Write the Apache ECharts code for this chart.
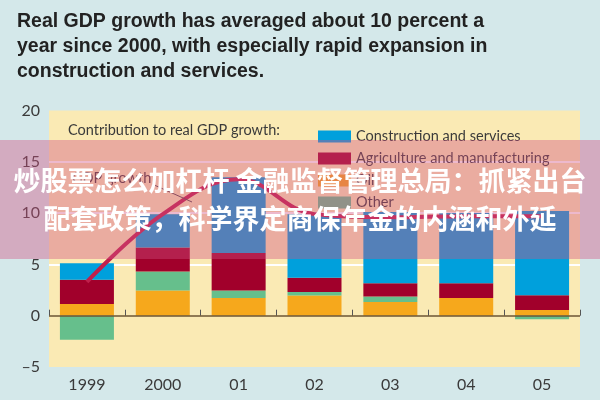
<!DOCTYPE html>
<html><head><meta charset="utf-8">
<script src="https://cdn.jsdelivr.net/npm/echarts@6/dist/echarts.min.js"></script>
<style>html,body{margin:0;padding:0;background:#d4e8ea;}#c{width:600px;height:400px;}</style>
</head><body><div id="c"></div>
<script>
const categories = ['1999','2000','01','02','03','04','05'];
const oil = [1.15, 2.45, 1.73, 1.96, 1.34, 1.73, 0.56];
const other = [-2.35, 1.85, 0.72, 0.34, 0.52, 0, -0.35];
const agriManuf = [2.35, 2.35, 3.65, 1.4, 1.31, 1.44, 1.44];
const constrServ = [1.6, 3.25, 7.4, 6.2, 6.93, 6.83, 8.2];
const gdpGrowth = [3.3, 9.9, 13.3, 9.9, 9.6, 9.7, 9.7];
const yTicks = [-5, 0, 5, 10, 15, 20];
const titleLines = ['Real GDP growth has averaged about 10 percent a',
  'year since 2000, with especially rapid expansion in',
  'construction and services.'];
const bannerLines = ['炒股票怎么加杠杆 金融监督管理总局：抓紧出台', '配套政策，科学界定商保年金的内涵和外延'];

const C = {blue:'#00a0dc', red:'#a1002b', orange:'#f6a81c', green:'#66bf8c', line:'#c01f4b'};
const FONT = 'Lato, "Noto Sans", sans-serif';
const chart = echarts.init(document.getElementById('c'), null, {renderer:'canvas'});

const barBase = {type:'bar', stack:'g', barWidth:54, emphasis:{disabled:true}};
const option = {
  backgroundColor:'#d4e8ea',
  animation:false,
  textStyle:{fontFamily:FONT},
  grid:{left:49, right:20, top:110.5, bottom:33, show:true, backgroundColor:'#faeab4', borderWidth:0},
  legend:{
    data:['Construction and services','Agriculture and manufacturing','Oil','Other'],
    orient:'vertical', left:313, top:124, itemWidth:33, itemHeight:12, itemGap:7,
    icon:'rect', selectedMode:false,
    textStyle:{fontFamily:FONT, fontSize:14.5, color:'#3a3a3a', padding:[0,0,0,0]}
  },
  xAxis:{type:'category', data:categories,
    axisLine:{show:false},
    axisTick:{show:true, inside:true, length:6, lineStyle:{color:'#555', width:1}},
    axisLabel:{fontFamily:FONT, fontSize:16, color:'#3a3a3a', margin:10},
    splitLine:{show:false}},
  yAxis:{type:'value', min:-5, max:20, interval:5,
    axisLine:{show:false}, axisTick:{show:false},
    axisLabel:{fontFamily:FONT, fontSize:16, color:'#3a3a3a', margin:9,
      formatter:v=> (yTicks.includes(v) ? (v<0 ? '\u2013'+Math.abs(v) : String(v)) : '')},
    splitLine:{show:true, lineStyle:{color:['transparent','transparent','#ffffff','#ffffff','#ffffff','transparent'], width:2}}},
  series:[
    Object.assign({}, barBase, {name:'Oil', data:oil, itemStyle:{color:C.orange},
      markLine:{silent:true, symbol:'none', label:{show:false},
        lineStyle:{color:'#6b5535', width:1.5, type:'solid'}, data:[{yAxis:0}]}}),
    Object.assign({}, barBase, {name:'Other', data:other, itemStyle:{color:C.green}}),
    Object.assign({}, barBase, {name:'Agriculture and manufacturing', data:agriManuf, itemStyle:{color:C.red}}),
    Object.assign({}, barBase, {name:'Construction and services', data:constrServ, itemStyle:{color:C.blue}}),
    {type:'line', name:'GDP growth', data:gdpGrowth, smooth:0.4, symbol:'none',
      lineStyle:{color:C.line, width:4}, z:5, emphasis:{disabled:true}}
  ],
  graphic:[
    ...titleLines.map((t,i)=>({type:'text', left:17, top:12+i*25,
      style:{text:t, font:'bold 19.5px "Liberation Sans", Arial, sans-serif', fill:'#222'}})),
    {type:'text', left:68, top:123, style:{text:'Contribution to real GDP growth:', font:'14.5px '+FONT, fill:'#3a3a3a'}},
    {type:'text', left:72, top:171, z:10, style:{text:'GDP growth', font:'14.5px '+FONT, fill:'#4a3a3a'}},
    {type:'line', z:10, shape:{x1:152, y1:184, x2:192, y2:202}, style:{stroke:'#5a4a4a', lineWidth:1}},
    {type:'rect', z:100, shape:{x:0, y:140, width:600, height:119}, style:{fill:'rgba(210,80,130,0.4)'}},
    ...bannerLines.map((t,i)=>({type:'text', z:101, x:300, y:181+i*38,
      style:{text:t, font:'bold 27px "Noto Sans CJK SC", sans-serif', fill:'#ffffff',
        align:'center', verticalAlign:'middle', shadowColor:'rgba(0,0,0,0.25)', shadowBlur:2}}))
  ]
};
chart.setOption(option);
</script></body></html>
